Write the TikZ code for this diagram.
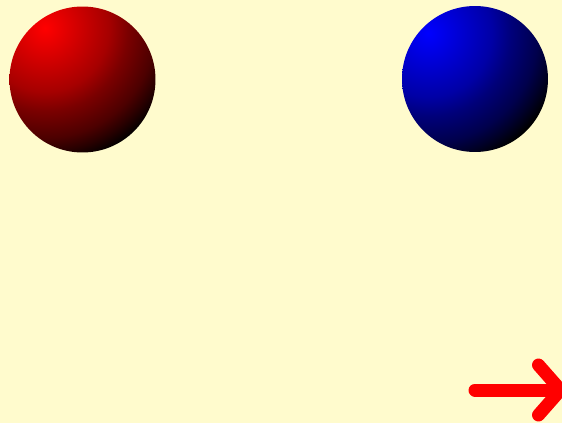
\documentclass[tikz,border=0pt]{standalone}
\usetikzlibrary{arrows.meta}

\definecolor{paper}{RGB}{255,251,205}
\pgfdeclareradialshading{redglow}{\pgfpoint{0bp}{0bp}}{color(0bp)=(red); color(11.4bp)=(red!65!black); color(14.8bp)=(red!48!black); color(19.6bp)=(red!30!black); color(22bp)=(red!16!black); color(24.5bp)=(black); color(50bp)=(black)}
\pgfdeclareradialshading{blueglow}{\pgfpoint{0bp}{0bp}}{color(0bp)=(blue); color(11.4bp)=(blue!65!black); color(14.8bp)=(blue!48!black); color(19.6bp)=(blue!30!black); color(22bp)=(blue!16!black); color(24.5bp)=(black); color(50bp)=(black)}

\begin{document}
\begin{tikzpicture}[x=0.02cm, y=-0.02cm,
    ball/.style={circle, inner sep=0pt, minimum size=2.92cm},
    push/.style={red, line width=0.26cm, line cap=round,
      -{Straight Barb[round, length=0.44cm, width=1.0cm]}}]
            % background
            \fill[paper] (0,0) rectangle (562,423);
            \useasboundingbox (0,0) rectangle (562,423);
            % the two balls, lit from the upper left
            \node[ball, path picture={\shade[shading=redglow]
                (path picture bounding box.center) ++(-37.5,-51.5) circle (140);}]
                (redball) at (82.5,79.5) {};
            \node[ball, path picture={\shade[shading=blueglow]
                (path picture bounding box.center) ++(-47,-46) circle (140);}]
                (blueball) at (475,79) {};
            % arrow, bottom right
            \coordinate (arrowtail) at (475,390);
            \coordinate (arrowtip) at (567,390);
            \draw[push] (arrowtail) -- (arrowtip);
        \end{tikzpicture}
\end{document}
